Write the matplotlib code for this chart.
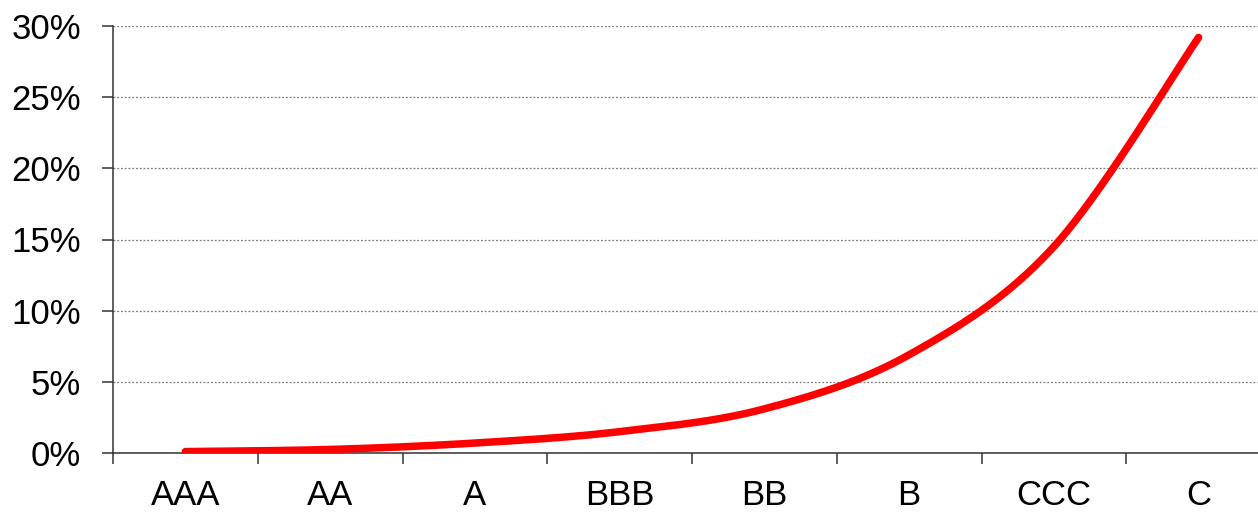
import numpy as np
import matplotlib
matplotlib.use("Agg")
import matplotlib.pyplot as plt
from matplotlib.ticker import FuncFormatter, FixedLocator

plt.rcParams["font.family"] = ["Liberation Sans", "DejaVu Sans"]

# Cumulative default probability by rating grade
ratings = ["AAA", "AA", "A", "BBB", "BB", "B", "CCC", "C"]
default_rate = [0.1, 0.25, 0.7, 1.5, 3.1, 6.9, 14.5, 29.2]  # percent
y_ticks = [0, 5, 10, 15, 20, 25, 30]


def smooth_curve(x, y, steps=60):
    """Catmull-Rom style smoothing through every point."""
    x = np.asarray(x, float)
    y = np.asarray(y, float)
    px = np.concatenate([[x[0]], x, [x[-1]]])
    py = np.concatenate([[y[0]], y, [y[-1]]])
    xs, ys = [], []
    t = np.linspace(0, 1, steps)
    for i in range(1, len(px) - 2):
        p0, p1, p2, p3 = (np.array([px[j], py[j]]) for j in range(i - 1, i + 3))
        c1 = p1 + (p2 - p0) / 6.0
        c2 = p2 - (p3 - p1) / 6.0
        b = ((1 - t) ** 3)[:, None] * p1 + (3 * (1 - t) ** 2 * t)[:, None] * c1 \
            + (3 * (1 - t) * t ** 2)[:, None] * c2 + (t ** 3)[:, None] * p2
        xs.append(b[:, 0])
        ys.append(b[:, 1])
    return np.concatenate(xs), np.concatenate(ys)


fig = plt.figure(figsize=(12.58, 5.13), dpi=100)
ax = fig.add_axes([113 / 1258, 60 / 513, 1158 / 1258, 427 / 513])

pos = np.arange(len(ratings))
sx, sy = smooth_curve(pos, default_rate)
ax.plot(sx, sy, color="#ff0000", lw=5.4, solid_capstyle="round", zorder=3)

ax.set_xlim(-0.5, len(ratings) - 0.5)
ax.set_ylim(0, 30)

ax.yaxis.set_major_locator(FixedLocator(y_ticks))
ax.yaxis.set_major_formatter(FuncFormatter(lambda v, _: f"{v:.0f}%"))
ax.grid(axis="y", color="#7a7a7a", linestyle=(0, (1.5, 1.5)), linewidth=0.9, zorder=0)

ax.set_xticks(pos)
ax.set_xticklabels(ratings)
ax.set_xticks(np.arange(len(ratings) + 1) - 0.5, minor=True)
ax.tick_params(axis="x", which="major", length=0, pad=19, labelsize=25)
ax.tick_params(axis="x", which="minor", length=8, width=1.1, color="#333333", direction="out")
ax.tick_params(axis="y", length=8, width=1.1, color="#333333", pad=15, labelsize=25)

for side in ("top", "right"):
    ax.spines[side].set_visible(False)
for side in ("left", "bottom"):
    ax.spines[side].set_color("#333333")
    ax.spines[side].set_linewidth(1.1)

fig.savefig("out.png", dpi=100)
